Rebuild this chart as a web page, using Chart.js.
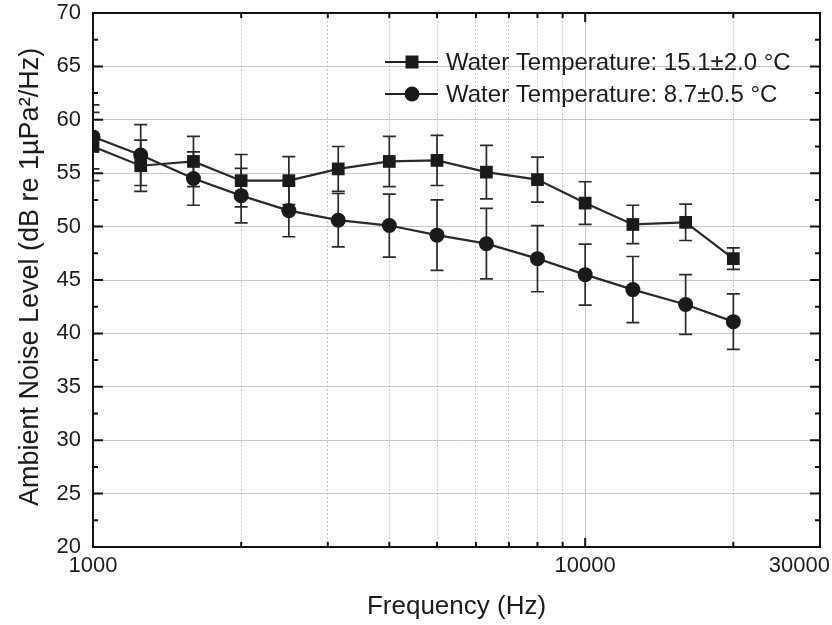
<!DOCTYPE html>
<html>
<head>
<meta charset="utf-8">
<script src="https://cdn.jsdelivr.net/npm/chart.js@4.4.0/dist/chart.umd.min.js"></script>
<style>
  html, body { margin: 0; padding: 0; background: #fff; }
  #wrap { width: 832px; height: 625px; }
</style>
</head>
<body>
<div id="wrap"><canvas id="noiseChart"></canvas></div>
<script>
// third-octave centre frequencies (Hz)
var freqs = [1000, 1250, 1600, 2000, 2500, 3150, 4000, 5000, 6300, 8000, 10000, 12500, 16000, 20000];
// 15.1 +- 2.0 C
var warmLevel = [57.5, 55.7, 56.1, 54.3, 54.3, 55.4, 56.1, 56.2, 55.1, 54.4, 52.2, 50.2, 50.4, 47.0];
var warmErr   = [3.2, 2.4, 2.35, 2.45, 2.25, 2.1, 2.35, 2.35, 2.5, 2.1, 2.0, 1.8, 1.7, 1.0];
// 8.7 +- 0.5 C
var coldLevel = [58.4, 56.7, 54.5, 52.9, 51.5, 50.6, 50.1, 49.2, 48.4, 47.0, 45.5, 44.1, 42.7, 41.1];
var coldErr   = [3.0, 2.85, 2.5, 2.55, 2.45, 2.5, 2.95, 3.3, 3.3, 3.1, 2.85, 3.1, 2.8, 2.6];

var seriesNames = ['Water Temperature: 15.1\u00b12.0 \u00b0C', 'Water Temperature: 8.7\u00b10.5 \u00b0C'];
var xTicks = [1000, 2000, 3000, 4000, 5000, 6000, 7000, 8000, 9000, 10000, 20000, 30000];
var xLabels = [1000, 10000, 30000];
var yMin = 20, yMax = 70, yStep = 2.5;

var FONT = '"Liberation Sans", Arial, Helvetica, sans-serif';
var INK = '#1c1c1c';

function toPoints(levels) {
    return freqs.map(function (f, i) { return { x: f, y: levels[i] }; });
}

function drawErrorBars(chart, dsIndex, errs) {
    var ctx = chart.ctx, area = chart.chartArea;
    var xs = chart.scales.x, ys = chart.scales.y;
    ctx.save();
    ctx.beginPath();
    ctx.rect(area.left, area.top, area.right - area.left, area.bottom - area.top);
    ctx.clip();
    ctx.strokeStyle = '#2a2a2a';
    ctx.lineWidth = 1.7;
    chart.data.datasets[dsIndex].data.forEach(function (p, i) {
        var x = xs.getPixelForValue(p.x);
        var yTop = ys.getPixelForValue(p.y + errs[i]);
        var yBot = ys.getPixelForValue(p.y - errs[i]);
        ctx.beginPath();
        ctx.moveTo(x, yTop); ctx.lineTo(x, yBot);
        ctx.moveTo(x - 6.5, yTop); ctx.lineTo(x + 6.5, yTop);
        ctx.moveTo(x - 6.5, yBot); ctx.lineTo(x + 6.5, yBot);
        ctx.stroke();
    });
    ctx.restore();
}

var decorPlugin = {
    id: 'decor',
    beforeDatasetsDraw: function (chart) {
        drawErrorBars(chart, 0, warmErr);
        drawErrorBars(chart, 1, coldErr);
    },
    afterDraw: function (chart) {
        var ctx = chart.ctx, a = chart.chartArea;
        var xs = chart.scales.x, ys = chart.scales.y;
        ctx.save();
        // frame
        ctx.strokeStyle = '#111';
        ctx.lineWidth = 2;
        ctx.strokeRect(a.left, a.top, a.right - a.left, a.bottom - a.top);
        // inward ticks
        ctx.beginPath();
        for (var v = yMin + yStep; v < yMax; v += yStep) {
            var py = ys.getPixelForValue(v);
            var len = (v % 5 === 0) ? 10 : 5;
            ctx.moveTo(a.left, py); ctx.lineTo(a.left + len, py);
            ctx.moveTo(a.right, py); ctx.lineTo(a.right - len, py);
        }
        xTicks.forEach(function (t) {
            if (t === xTicks[0] || t === xTicks[xTicks.length - 1]) return;
            var px = xs.getPixelForValue(t);
            var len = (t === 10000) ? 9 : 5;
            ctx.moveTo(px, a.bottom); ctx.lineTo(px, a.bottom - len);
            ctx.moveTo(px, a.top); ctx.lineTo(px, a.top + len);
        });
        ctx.stroke();

        // x tick labels
        ctx.fillStyle = INK;
        ctx.font = '22px ' + FONT;
        ctx.textAlign = 'center';
        ctx.textBaseline = 'middle';
        xLabels.forEach(function (t) {
            var txt = String(t);
            var w = ctx.measureText(txt).width;
            var px = xs.getPixelForValue(t);
            if (px + w / 2 > chart.width - 2) px = chart.width - 2 - w / 2;
            ctx.fillText(txt, px, a.bottom + 19);
        });

        // axis titles
        ctx.font = '26px ' + FONT;
        ctx.fillText('Frequency (Hz)', (a.left + a.right) / 2, 607);
        ctx.save();
        ctx.translate(31, (a.top + a.bottom) / 2 - 3);
        ctx.rotate(-Math.PI / 2);
        ctx.font = '27px ' + FONT;
        ctx.fillText('Ambient Noise Level (dB re 1\u00b5Pa\u00b2/Hz)', 0, 0);
        ctx.restore();

        // legend
        var rows = [62, 94];
        ctx.font = '24px ' + FONT;
        ctx.textAlign = 'left';
        rows.forEach(function (ly, i) {
            ctx.strokeStyle = '#222';
            ctx.lineWidth = 2;
            ctx.beginPath();
            ctx.moveTo(385, ly); ctx.lineTo(438, ly);
            ctx.stroke();
            ctx.fillStyle = '#1a1a1a';
            ctx.beginPath();
            if (i === 0) ctx.rect(412 - 6.5, ly - 6.5, 13, 13);
            else ctx.arc(412, ly, 7.5, 0, Math.PI * 2);
            ctx.fill();
            ctx.fillStyle = INK;
            ctx.fillText(seriesNames[i], 446, ly + 1);
        });
        ctx.restore();
    }
};

var ctx = document.getElementById('noiseChart').getContext('2d');
var noiseChart = new Chart(ctx, {
    type: 'line',
    data: {
        datasets: [
            {
                label: seriesNames[0],
                data: toPoints(warmLevel),
                borderColor: '#2a2a2a',
                borderWidth: 2.2,
                backgroundColor: '#1a1a1a',
                pointStyle: 'rect',
                pointRadius: 9,
                pointBorderWidth: 0,
                pointBackgroundColor: '#1a1a1a',
                tension: 0,
                clip: 0
            },
            {
                label: seriesNames[1],
                data: toPoints(coldLevel),
                borderColor: '#2a2a2a',
                borderWidth: 2.2,
                backgroundColor: '#1a1a1a',
                pointStyle: 'circle',
                pointRadius: 7.5,
                pointBorderWidth: 0,
                pointBackgroundColor: '#1a1a1a',
                tension: 0,
                clip: 0
            }
        ]
    },
    options: {
        responsive: true,
        maintainAspectRatio: false,
        animation: false,
        layout: { padding: { top: 13, right: 12, left: 0, bottom: 0 } },
        plugins: {
            legend: { display: false },
            tooltip: { enabled: false }
        },
        scales: {
            x: {
                type: 'logarithmic',
                min: 1000,
                max: 30000,
                afterBuildTicks: function (scale) {
                    scale.ticks = xTicks.map(function (v) { return { value: v }; });
                },
                afterFit: function (scale) {
                    scale.height = 78;
                    scale.paddingLeft = 0;
                    scale.paddingRight = 0;
                },
                ticks: { display: false },
                border: {
                    display: false,
                    dash: function (c) { return (c.tick && c.tick.value === 10000) ? [] : [2, 2]; }
                },
                grid: {
                    drawTicks: false,
                    lineWidth: 1,
                    color: function (c) { return (c.tick && c.tick.value === 10000) ? '#c8c8c8' : '#c4c4c4'; }
                }
            },
            y: {
                min: yMin,
                max: yMax,
                afterFit: function (scale) {
                    scale.width = 93;
                    scale.paddingTop = 0;
                    scale.paddingBottom = 0;
                },
                ticks: {
                    stepSize: yStep,
                    padding: 12,
                    color: INK,
                    font: { family: FONT, size: 22 },
                    callback: function (v) { return (v % 5 === 0) ? v : ''; }
                },
                border: {
                    display: false,
                    dash: function (c) { return (c.tick && c.tick.value % 5 === 0) ? [] : [2, 2]; }
                },
                grid: {
                    drawTicks: false,
                    lineWidth: 1,
                    color: function (c) { return (c.tick && c.tick.value % 5 === 0) ? '#c8c8c8' : '#c4c4c4'; }
                }
            }
        }
    },
    plugins: [decorPlugin]
});
</script>
</body>
</html>
